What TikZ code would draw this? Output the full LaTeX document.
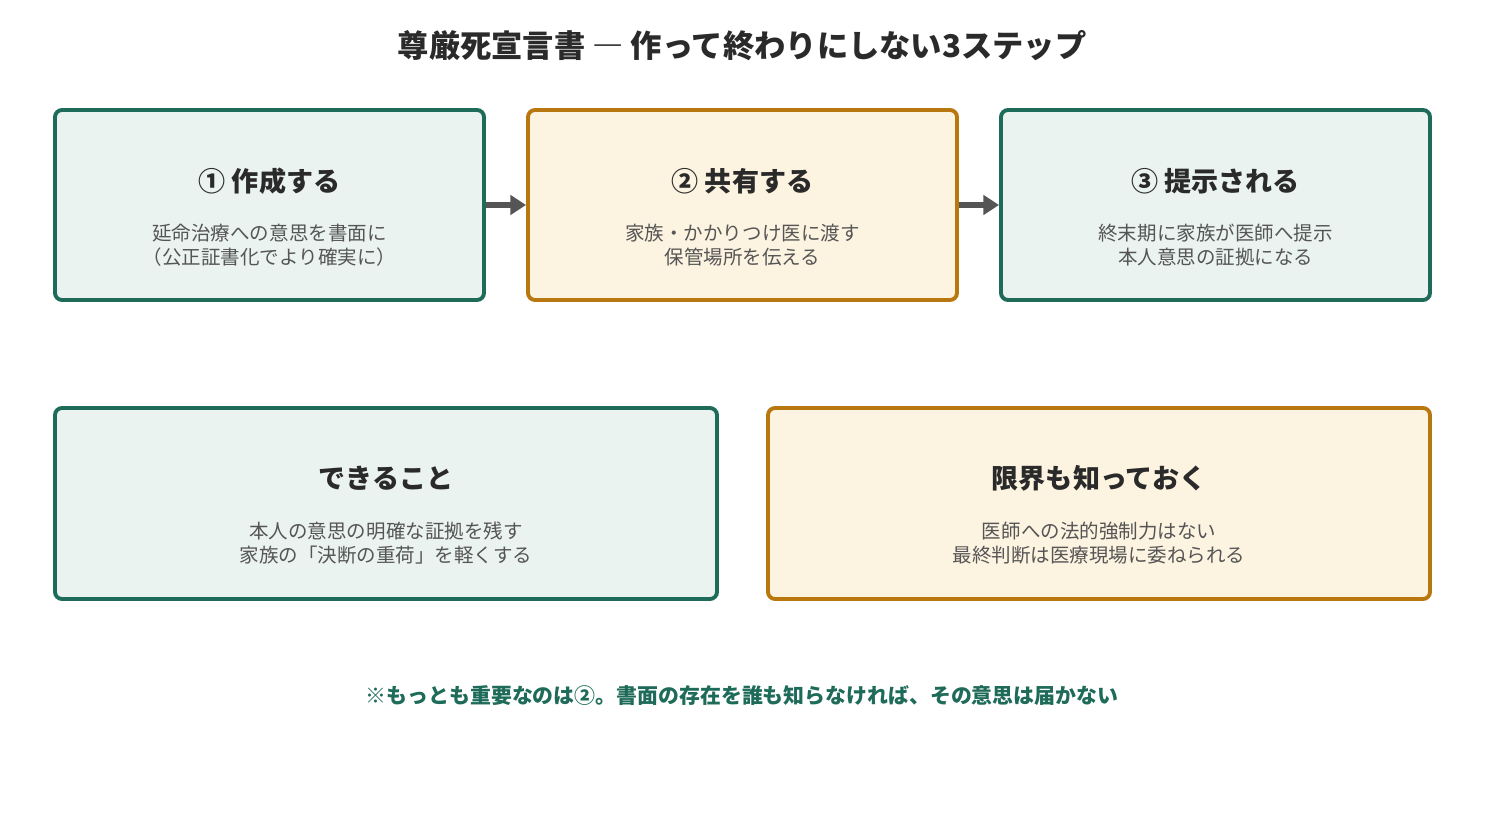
\documentclass[tikz,border=0pt]{standalone}
\usepackage{fontspec}
\setmainfont{Noto Sans CJK JP}
\usetikzlibrary{arrows.meta}
\definecolor{stepgreen}{HTML}{1F6B5A}
\definecolor{fillgreen}{HTML}{EAF3EF}
\definecolor{steporange}{HTML}{B8770F}
\definecolor{fillorange}{HTML}{FDF3E1}
\definecolor{textgray}{HTML}{555555}
\definecolor{headdark}{HTML}{2A2A2A}
\tikzset{
  gbox/.style={draw=stepgreen, fill=fillgreen, line width=2.2pt, rounded corners=4pt, inner sep=0pt},
  obox/.style={draw=steporange, fill=fillorange, line width=2.2pt, rounded corners=4pt, inner sep=0pt},
  head/.style={font=\fontsize{15.4}{18}\selectfont\bfseries, text=headdark},
  body/.style={font=\fontsize{11.1}{13.6}\selectfont, text=textgray, align=center},
  flow/.style={-{Triangle[length=9pt,width=11pt]}, line width=3pt, draw=textgray}
}
\begin{document}
\begin{tikzpicture}[x=0.02cm, y=-0.02cm]
        \useasboundingbox (0,0) rectangle (1485,824);

        % Title
        \node[font=\fontsize{17.8}{21}\selectfont\bfseries, text=headdark] (title) at (742,46) {尊厳死宣言書 ― 作って終わりにしない3ステップ};

        % Steps
        \node[gbox, minimum width=429*0.02cm, minimum height=190*0.02cm] (s1) at (269.5,205) {};
        \node[obox, minimum width=429*0.02cm, minimum height=190*0.02cm] (s2) at (742.5,205) {};
        \node[gbox, minimum width=429*0.02cm, minimum height=190*0.02cm] (s3) at (1215.5,205) {};

        \node[head] (h1) at (269.5,181) {① 作成する};
        \node[body] (t1) at (269.5,245) {延命治療への意思を書面に\\（公正証書化でより確実に）};
        \node[head] (h2) at (742.5,181) {② 共有する};
        \node[body] (t2) at (742.5,245) {家族・かかりつけ医に渡す\\保管場所を伝える};
        \node[head] (h3) at (1215.5,181) {③ 提示される};
        \node[body] (t3) at (1215.5,245) {終末期に家族が医師へ提示\\本人意思の証拠になる};

        \draw[flow] (s1.east) -- (s2.west);
        \draw[flow] (s2.east) -- (s3.west);

        % Can / limits
        \node[gbox, minimum width=662*0.02cm, minimum height=191*0.02cm] (can) at (386,503.5) {};
        \node[obox, minimum width=662*0.02cm, minimum height=191*0.02cm] (lim) at (1099,503.5) {};

        \node[head] (hc) at (386,478) {できること};
        \node[body] (tc) at (386,543) {本人の意思の明確な証拠を残す\\家族の「決断の重荷」を軽くする};
        \node[head] (hl) at (1099,478) {限界も知っておく};
        \node[body] (tl) at (1099,543) {医師への法的強制力はない\\最終判断は医療現場に委ねられる};

        % Note
        \node[font=\fontsize{11.9}{14}\selectfont\bfseries, text=stepgreen] (note) at (742,696) {※もっとも重要なのは②。書面の存在を誰も知らなければ、その意思は届かない};
\end{tikzpicture}
\end{document}
